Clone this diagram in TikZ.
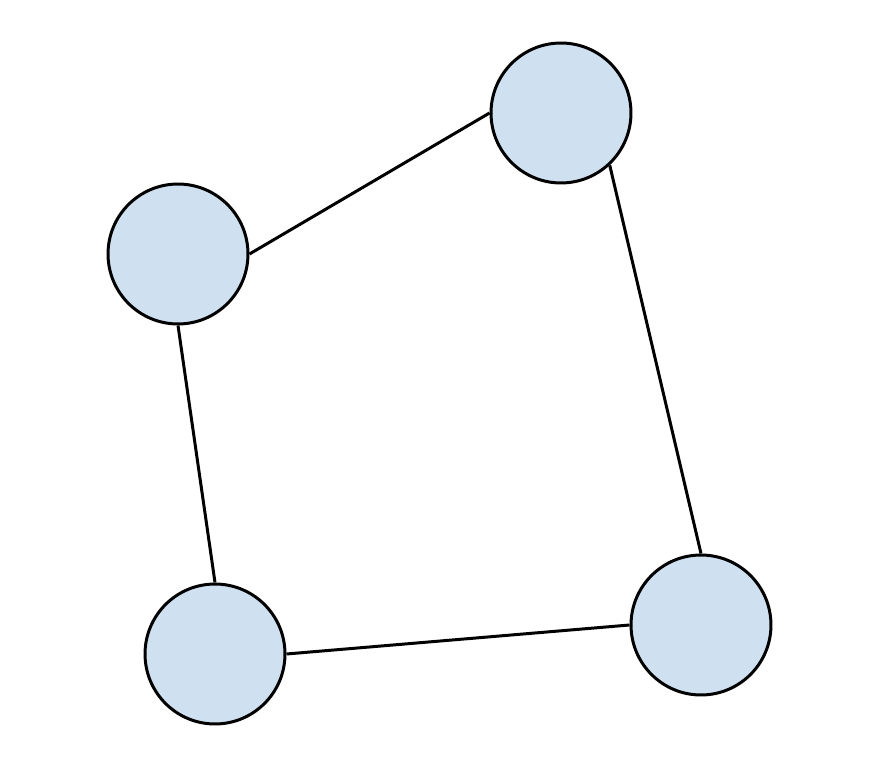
\documentclass[tikz,border=0pt]{standalone}
\usepackage{tikz}
\usetikzlibrary{positioning}
\definecolor{nodeblue}{RGB}{207,224,241}

\begin{document}
\begin{tikzpicture}[
            x = 0.02cm, y = -0.02cm, % pixel-like units
            line width = 1.7pt % line style
        ]

        \tikzstyle{vertex}=[
            circle,
            draw = black,
            fill = nodeblue,
            minimum size = 2.8cm,
            inner sep = 0pt
        ]

        \useasboundingbox (0,0) rectangle (880,767);

        % corners
        \node[vertex] (NE) at (561,113) {};
        \node[vertex] (NW) at (178,254) {};
        \node[vertex] (SW) at (215,654) {};
        \node[vertex] (SE) at (701,625) {};

        % edges
        \draw (NW.east) -- (NE.west);
        \draw (NE.-47) -- (SE.north);
        \draw (SE.west) -- (SW.east);
        \draw (SW.north) -- (NW.south);

\end{tikzpicture}
\end{document}
